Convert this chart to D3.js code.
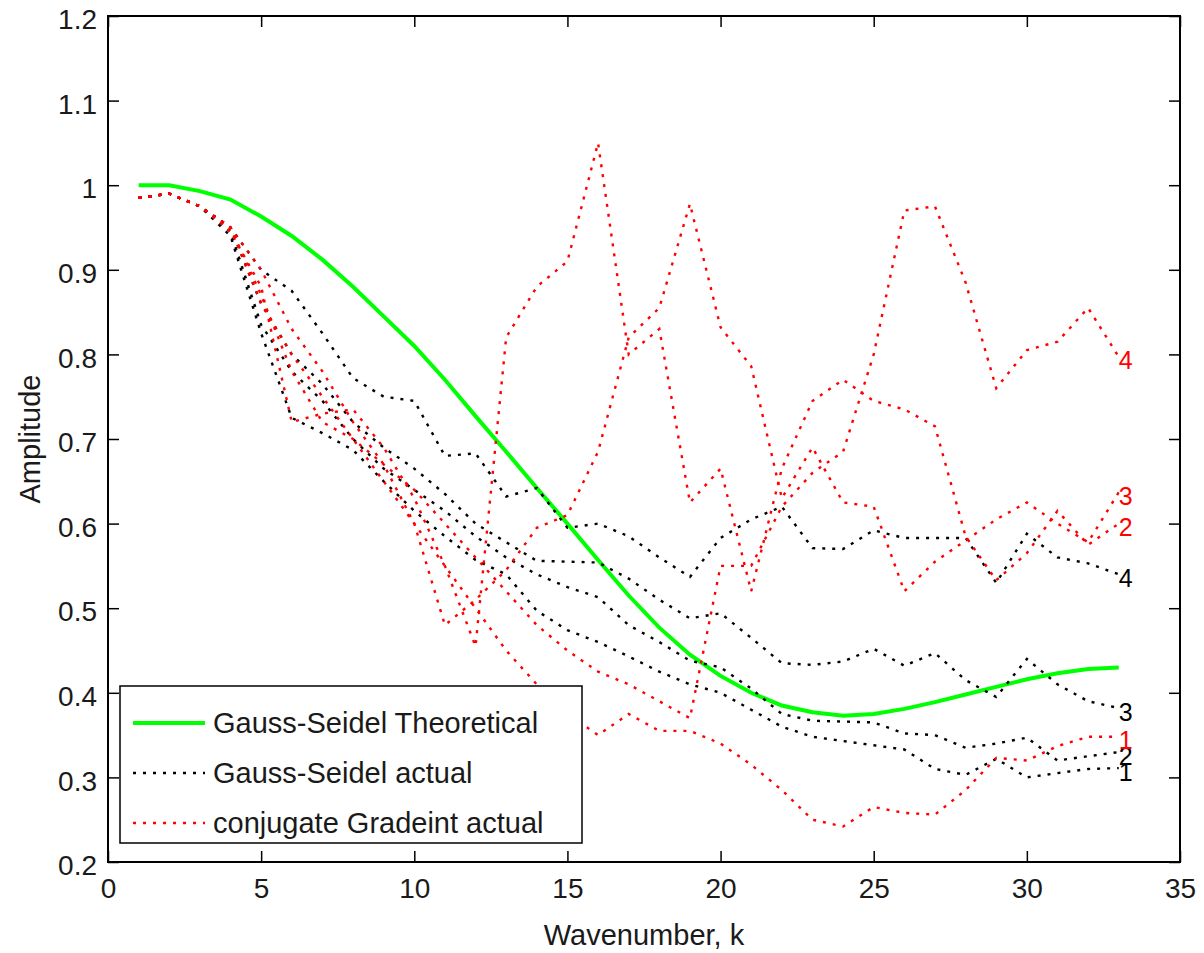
<!DOCTYPE html>
<html>
<head>
<meta charset="utf-8">
<script src="https://cdn.jsdelivr.net/npm/d3@7"></script>
<style>
  body { margin: 0; background: #fff; }
  text { font-family: "Liberation Sans", Arial, sans-serif; fill: #1a1a1a; }
</style>
</head>
<body>
<div id="chart"></div>
<script>
// wavenumbers
const kValues = d3.range(1, 34)

// Gauss-Seidel theoretical amplitude
const theory = [1.0, 1.0, 0.993, 0.983, 0.963, 0.94, 0.912, 0.88, 0.845, 0.81, 0.77, 0.727, 0.685, 0.642, 0.6, 0.557,
  0.515, 0.477, 0.445, 0.42, 0.4, 0.385, 0.377, 0.373, 0.375, 0.381, 0.389, 0.398, 0.407, 0.416, 0.423, 0.428, 0.43]

// Gauss-Seidel actual, runs 1-4
const gs1 = [0.985, 0.99, 0.975, 0.94, 0.825, 0.725, 0.707, 0.687, 0.65, 0.615, 0.585, 0.557, 0.54, 0.497, 0.474, 0.46,
  0.443, 0.425, 0.41, 0.4, 0.38, 0.36, 0.348, 0.343, 0.338, 0.333, 0.31, 0.303, 0.322, 0.3, 0.305, 0.31, 0.311]
const gs2 = [0.985, 0.99, 0.975, 0.945, 0.835, 0.78, 0.745, 0.7, 0.665, 0.64, 0.615, 0.585, 0.56, 0.54, 0.525, 0.513,
  0.48, 0.46, 0.438, 0.43, 0.405, 0.375, 0.367, 0.366, 0.365, 0.352, 0.35, 0.335, 0.34, 0.347, 0.32, 0.325, 0.33]
const gs3 = [0.985, 0.99, 0.975, 0.95, 0.86, 0.8, 0.765, 0.72, 0.69, 0.665, 0.635, 0.6, 0.578, 0.556, 0.555, 0.554,
  0.535, 0.51, 0.488, 0.494, 0.465, 0.435, 0.433, 0.437, 0.452, 0.432, 0.447, 0.415, 0.395, 0.44, 0.41, 0.39, 0.382]
const gs4 = [0.985, 0.99, 0.975, 0.95, 0.9, 0.875, 0.825, 0.772, 0.75, 0.745, 0.68, 0.683, 0.632, 0.642, 0.595, 0.6,
  0.585, 0.56, 0.537, 0.583, 0.605, 0.62, 0.571, 0.57, 0.592, 0.583, 0.583, 0.583, 0.53, 0.588, 0.56, 0.553, 0.54]

// conjugate gradient actual, runs 1-4
const cg1 = [0.985, 0.99, 0.975, 0.95, 0.86, 0.8, 0.75, 0.7, 0.65, 0.6, 0.55, 0.5, 0.45, 0.41, 0.375, 0.35,
  0.375, 0.355, 0.355, 0.34, 0.315, 0.285, 0.25, 0.242, 0.265, 0.258, 0.256, 0.285, 0.323, 0.32, 0.337, 0.348, 0.348]
const cg2 = [0.985, 0.99, 0.975, 0.945, 0.88, 0.72, 0.73, 0.735, 0.69, 0.63, 0.55, 0.455, 0.82, 0.88, 0.91, 1.05,
  0.8, 0.83, 0.625, 0.665, 0.52, 0.665, 0.745, 0.77, 0.745, 0.735, 0.715, 0.585, 0.533, 0.565, 0.615, 0.575, 0.6]
const cg3 = [0.985, 0.99, 0.975, 0.95, 0.9, 0.83, 0.78, 0.72, 0.67, 0.6, 0.48, 0.51, 0.545, 0.595, 0.61, 0.685,
  0.82, 0.855, 0.978, 0.832, 0.786, 0.63, 0.69, 0.625, 0.62, 0.52, 0.555, 0.58, 0.605, 0.625, 0.6, 0.578, 0.637]
const cg4 = [0.985, 0.99, 0.975, 0.95, 0.87, 0.78, 0.72, 0.7, 0.67, 0.64, 0.6, 0.56, 0.52, 0.48, 0.45, 0.425,
  0.41, 0.39, 0.37, 0.55, 0.55, 0.62, 0.66, 0.685, 0.8, 0.97, 0.975, 0.885, 0.76, 0.805, 0.815, 0.855, 0.797]

const runLabels = ['1', '2', '3', '4']
const legendLabels = ['Gauss-Seidel Theoretical', 'Gauss-Seidel actual', 'conjugate Gradeint actual']
const xTicks = [0, 5, 10, 15, 20, 25, 30, 35]
const yTicks = [0.2, 0.3, 0.4, 0.5, 0.6, 0.7, 0.8, 0.9, 1, 1.1, 1.2]

// layout
const width = 1204
const height = 953
const plot = { left: 108, top: 16, right: 1180, bottom: 862 }
const tickLen = 11
const colors = { theory: '#00ff00', gs: '#000000', cg: '#ff0000' }
const dots = '3,7'

const x = d3.scaleLinear().domain([0, 35]).range([plot.left, plot.right])
const y = d3.scaleLinear().domain([0.2, 1.2]).range([plot.bottom, plot.top])

const svg = d3.select('#chart').append('svg')
  .attr('width', width)
  .attr('height', height)

const line = d3.line()
  .x((d, i) => x(kValues[i]))
  .y(d => y(d))

// axes: bottom/top and left/right, ticks pointing inside
const gx = svg.append('g')
  .attr('transform', `translate(0,${plot.bottom})`)
  .call(d3.axisBottom(x).tickValues(xTicks).tickSize(-tickLen).tickPadding(16).tickFormat(d3.format('d')))
const gxTop = svg.append('g')
  .attr('transform', `translate(0,${plot.top})`)
  .call(d3.axisTop(x).tickValues(xTicks).tickSize(-tickLen).tickFormat(''))
const gy = svg.append('g')
  .attr('transform', `translate(${plot.left},0)`)
  .call(d3.axisLeft(y).tickValues(yTicks).tickSize(-tickLen).tickPadding(11).tickFormat(d => d3.format('~g')(d)))
const gyRight = svg.append('g')
  .attr('transform', `translate(${plot.right},0)`)
  .call(d3.axisRight(y).tickValues(yTicks).tickSize(-tickLen).tickFormat(''))

;[gx, gxTop, gy, gyRight].forEach(g => {
  g.select('.domain').remove()
  g.selectAll('.tick line').attr('stroke', '#000').attr('stroke-width', 1.5)
})
gx.selectAll('.tick text').attr('font-size', 28).attr('fill', '#1a1a1a')
gy.selectAll('.tick text').attr('font-size', 28).attr('fill', '#1a1a1a').attr('dy', '0.45em')

svg.append('rect')
  .attr('x', plot.left)
  .attr('y', plot.top)
  .attr('width', plot.right - plot.left)
  .attr('height', plot.bottom - plot.top)
  .attr('fill', 'none')
  .attr('stroke', '#000')
  .attr('stroke-width', 2)

// axis titles
svg.append('text')
  .attr('x', (plot.left + plot.right) / 2)
  .attr('y', 945)
  .attr('text-anchor', 'middle')
  .attr('font-size', 29)
  .text('Wavenumber, k')

svg.append('text')
  .attr('transform', `translate(40,${(plot.top + plot.bottom) / 2}) rotate(-90)`)
  .attr('text-anchor', 'middle')
  .attr('font-size', 29)
  .text('Amplitude')

// curves
svg.append('path')
  .datum(theory)
  .attr('d', line)
  .attr('fill', 'none')
  .attr('stroke', colors.theory)
  .attr('stroke-width', 4)

const drawRuns = (runs, color) => {
  const g = svg.append('g')
  g.selectAll('path')
    .data(runs)
    .enter()
    .append('path')
    .attr('d', line)
    .attr('fill', 'none')
    .attr('stroke', color)
    .attr('stroke-width', 2.4)
    .attr('stroke-dasharray', dots)

  g.selectAll('text')
    .data(runs)
    .enter()
    .append('text')
    .attr('x', x(kValues[kValues.length - 1]))
    .attr('y', d => y(d[d.length - 1]))
    .attr('dy', '0.5em')
    .attr('font-size', 25)
    .style('fill', color)
    .text((d, i) => runLabels[i])
}

drawRuns([gs1, gs2, gs3, gs4], colors.gs)
drawRuns([cg1, cg2, cg3, cg4], colors.cg)

// legend
const legend = svg.append('g')
legend.append('rect')
  .attr('x', 120)
  .attr('y', 686)
  .attr('width', 462)
  .attr('height', 157)
  .attr('fill', '#fff')
  .attr('stroke', '#000')
  .attr('stroke-width', 1.5)

const legendStyles = [
  { color: colors.theory, width: 4, dash: null },
  { color: colors.gs, width: 2.4, dash: dots },
  { color: colors.cg, width: 2.4, dash: dots }
]
const rowY = [723, 773, 823]

legendLabels.forEach((label, i) => {
  legend.append('line')
    .attr('x1', 133)
    .attr('x2', 205)
    .attr('y1', rowY[i])
    .attr('y2', rowY[i])
    .attr('stroke', legendStyles[i].color)
    .attr('stroke-width', legendStyles[i].width)
    .attr('stroke-dasharray', legendStyles[i].dash)
  legend.append('text')
    .attr('x', 213)
    .attr('y', rowY[i])
    .attr('dy', '0.36em')
    .attr('font-size', 29)
    .text(label)
})
</script>
</body>
</html>
